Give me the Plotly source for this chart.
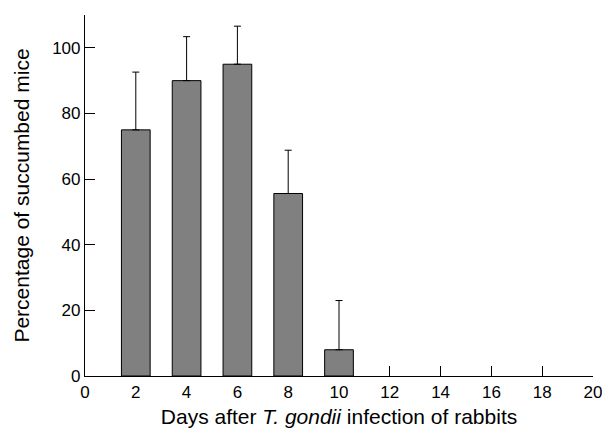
import plotly.graph_objects as go

days = [2, 4, 6, 8, 10]
percent = [75, 90, 95, 55.6, 8]
err_up = [17.6, 13.4, 11.6, 13.2, 15]

x_ticks = list(range(0, 21, 2))
y_ticks = [0, 20, 40, 60, 80, 100]

fig = go.Figure()
fig.add_trace(go.Bar(
    x=days, y=percent, width=1.13,
    marker=dict(color="#808080", line=dict(color="black", width=1)),
    error_y=dict(type="data", symmetric=False, array=err_up,
                 arrayminus=[0]*len(err_up), color="black", thickness=1, width=3.5),
    showlegend=False,
    cliponaxis=False,
))

font = "Liberation Sans, Arial, sans-serif"
fig.update_layout(
    width=594, height=420,
    margin=dict(l=77, r=9, t=7, b=52),
    plot_bgcolor="white", paper_bgcolor="white",
    font=dict(family=font, size=17, color="black"),
    xaxis=dict(
        range=[0, 20], tickvals=x_ticks, ticks="inside", ticklen=10, tickcolor="black",
        showline=True, linecolor="black", linewidth=1.2, showgrid=False, zeroline=False,
        layer="below traces", automargin=False, ticklabeloverflow="allow",
        title=dict(text="Days after <i>T. gondii</i> infection of rabbits", font=dict(size=21), standoff=12),
    ),
    yaxis=dict(
        range=[0, 110], tickvals=y_ticks, ticks="inside", ticklen=10, tickcolor="black",
        showline=True, linecolor="black", linewidth=1.2, showgrid=False, zeroline=False,
        layer="below traces", automargin=False, ticklabeloverflow="allow",
        title=dict(text="Percentage of succumbed mice", font=dict(size=21), standoff=16),
    ),
)

fig.write_html("out.html")
